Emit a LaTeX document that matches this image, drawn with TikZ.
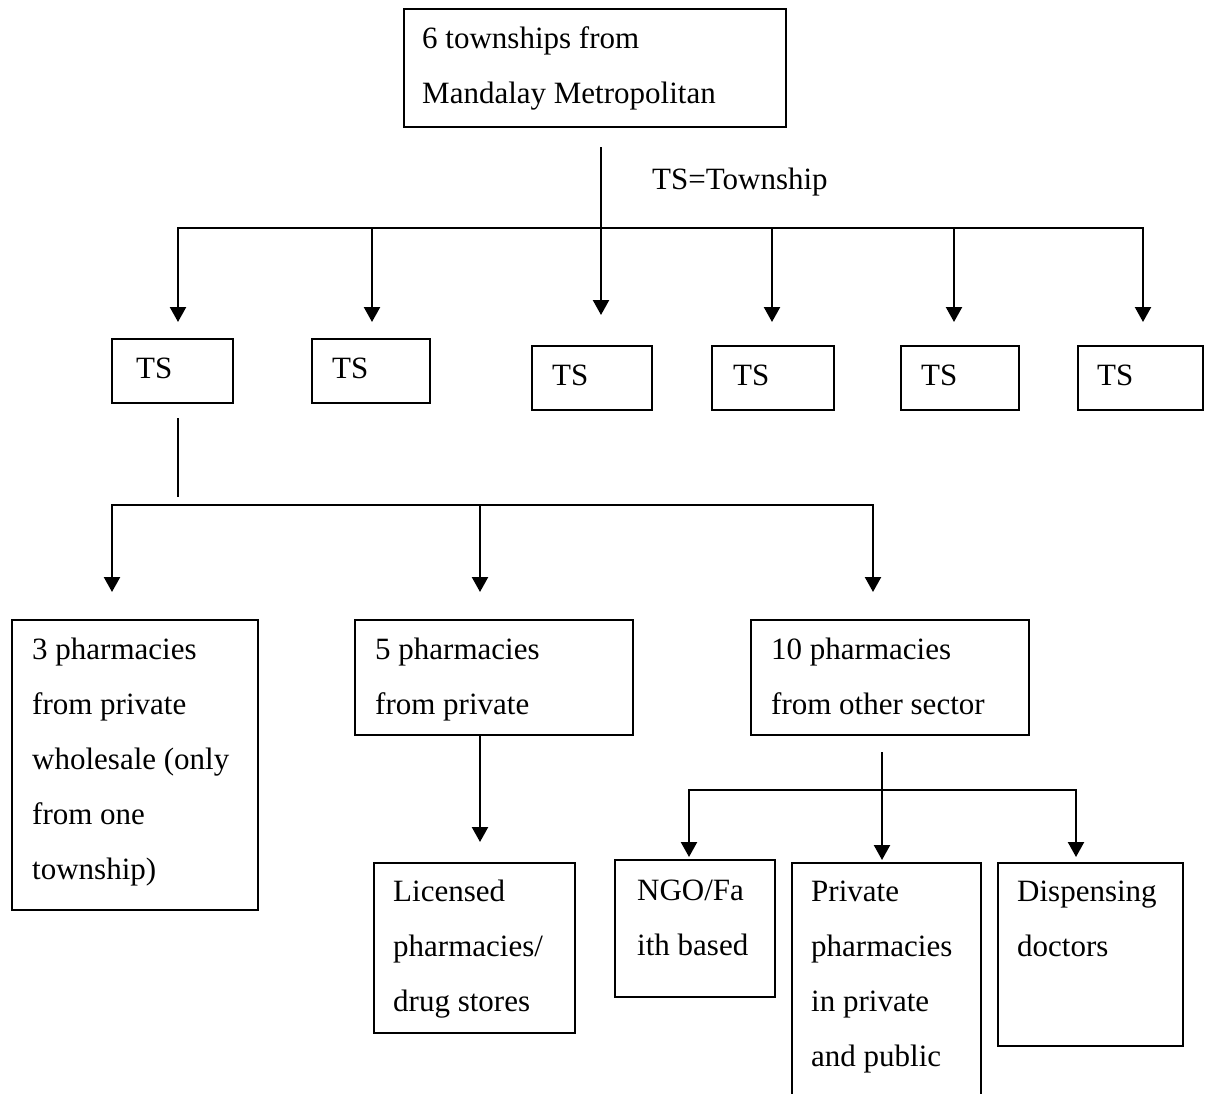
\documentclass[tikz,border=0pt]{standalone}
\usepackage{fontspec}
\setmainfont{Liberation Serif}
\usetikzlibrary{arrows.meta}
\begin{document}
\begin{tikzpicture}[x=1pt,y=-1pt,
  box/.style={draw, line width=1.8pt, anchor=north west, inner sep=0pt},
  txt/.style={anchor=base west, inner sep=0pt, font=\fontsize{31}{37}\selectfont},
  conn/.style={line width=2.3pt},
  arr/.style={conn, -{Triangle[length=15pt,width=16pt]}},
  arrs/.style={conn, {Triangle[length=15pt,width=16pt]}-{Triangle[length=15pt,width=16pt]}}]
\useasboundingbox (0,0) rectangle (1205,1093);
% boxes
\node[box, minimum width=382pt, minimum height=118pt] (top) at (403,8) {};
\node[box, minimum width=121pt, minimum height=64pt] (ts1) at (111,338) {};
\node[box, minimum width=118pt, minimum height=64pt] (ts2) at (311,338) {};
\node[box, minimum width=120pt, minimum height=64pt] (ts3) at (531,345) {};
\node[box, minimum width=122pt, minimum height=64pt] (ts4) at (711,345) {};
\node[box, minimum width=118pt, minimum height=64pt] (ts5) at (900,345) {};
\node[box, minimum width=125pt, minimum height=64pt] (ts6) at (1077,345) {};
\node[box, minimum width=246pt, minimum height=290pt] (ba) at (11,619) {};
\node[box, minimum width=278pt, minimum height=115pt] (bb) at (354,619) {};
\node[box, minimum width=278pt, minimum height=115pt] (bc) at (750,619) {};
\node[box, minimum width=201pt, minimum height=170pt] (bd) at (373,862) {};
\node[box, minimum width=160pt, minimum height=137pt] (be) at (614,859) {};
\node[box, minimum width=189pt, minimum height=260pt] (bf) at (791,862) {};
\node[box, minimum width=185pt, minimum height=183pt] (bg) at (997,862) {};
% texts
\node[txt] (t-top1) at (422,48) {6 townships from};
\node[txt] (t-top2) at (422,103) {Mandalay Metropolitan};
\node[txt] (t-key) at (652,189) {TS=Township};
\node[txt] (t-ts1) at (136,378) {TS};
\node[txt] (t-ts2) at (332,378) {TS};
\node[txt] (t-ts3) at (552,385) {TS};
\node[txt] (t-ts4) at (733,385) {TS};
\node[txt] (t-ts5) at (921,385) {TS};
\node[txt] (t-ts6) at (1097,385) {TS};
\foreach \t [count=\i] in {3 pharmacies, from private, wholesale (only, from one, township)}
  \node[txt] (t-a\i) at (32,{659+55*(\i-1)}) {\t};
\foreach \t [count=\i] in {5 pharmacies, from private}
  \node[txt] (t-b\i) at (375,{659+55*(\i-1)}) {\t};
\foreach \t [count=\i] in {10 pharmacies, from other sector}
  \node[txt] (t-c\i) at (771,{659+55*(\i-1)}) {\t};
\foreach \t [count=\i] in {Licensed, pharmacies/, drug stores}
  \node[txt] (t-d\i) at (393,{901+55*(\i-1)}) {\t};
\foreach \t [count=\i] in {NGO/Fa, ith based}
  \node[txt] (t-e\i) at (637,{900+55*(\i-1)}) {\t};
\foreach \t [count=\i] in {Private, pharmacies, in private, and public}
  \node[txt] (t-f\i) at (811,{901+55*(\i-1)}) {\t};
\foreach \t [count=\i] in {Dispensing, doctors}
  \node[txt] (t-g\i) at (1017,{901+55*(\i-1)}) {\t};
% connector coordinates
\coordinate (s0) at (601,147);
\coordinate (e3) at (601,315);
\coordinate (e1) at (178,322);
\coordinate (e2) at (372,322);
\coordinate (e4) at (772,322);
\coordinate (e5) at (954,322);
\coordinate (e6) at (1143,322);
\coordinate (h1) at (178,228);
\coordinate (h6) at (1143,228);
\coordinate (s1) at (178,418);
\coordinate (s1b) at (178,497);
\coordinate (ea) at (112,592);
\coordinate (eb) at (480,592);
\coordinate (ec) at (873,592);
\coordinate (ga) at (112,505);
\coordinate (gc) at (873,505);
\coordinate (gb) at (480,505);
\coordinate (ed) at (480,842);
\coordinate (sc) at (882,752);
\coordinate (ef) at (882,860);
\coordinate (ee) at (689,857);
\coordinate (eg) at (1076,857);
\coordinate (ke) at (689,790);
\coordinate (kg) at (1076,790);
% connectors
\draw[arrs] (e1) -- (h1) -- (h6) -- (e6);
\draw[arr] (h1 -| e2) -- (e2);
\draw[arr] (h1 -| e4) -- (e4);
\draw[arr] (h1 -| e5) -- (e5);
\draw[arr] (s0) -- (e3);
\draw[conn] (s1) -- (s1b);
\draw[arrs] (ea) -- (ga) -- (gc) -- (ec);
\draw[arr] (gb) -- (eb);
\draw[arr] (bb.south -| ed) -- (ed);
\draw[arrs] (ee) -- (ke) -- (kg) -- (eg);
\draw[arr] (sc) -- (ef);
\end{tikzpicture}
\end{document}
